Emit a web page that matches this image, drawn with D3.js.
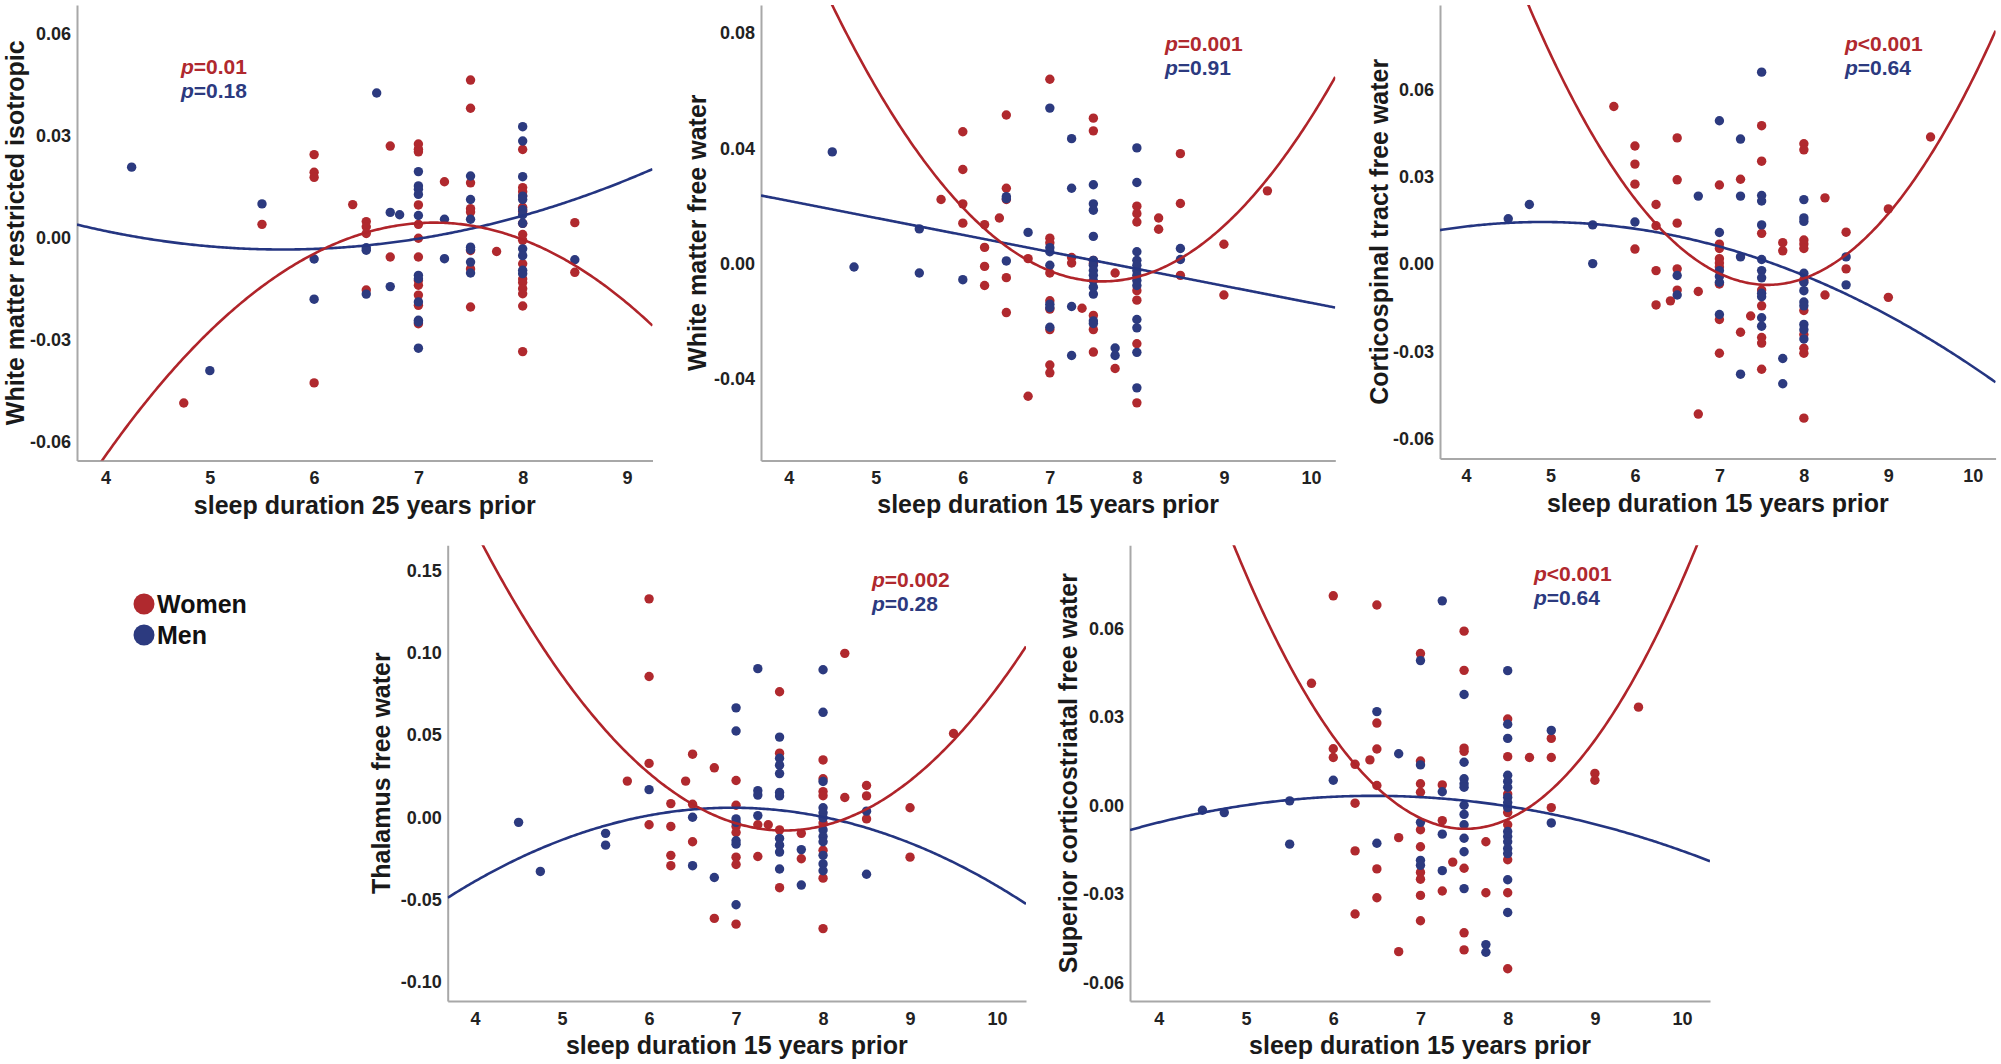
<!DOCTYPE html>
<html>
<head>
<meta charset="utf-8">
<script src="https://cdn.jsdelivr.net/npm/d3@7"></script>
<style>
  html, body { margin: 0; padding: 0; background: #ffffff; }
  svg { display: block; }
  text { font-family: "Liberation Sans", Arial, sans-serif; }
</style>
</head>
<body>
<div id="chart"></div>
<script>
// ---------------- DATA ----------------
// [sleep hours, value]
const p1Men = [[4.25,0.0208],[5.5,0.010],[5.0,-0.039],[6.6,0.0426],[6,-0.0062],[6,-0.018],[6.5,-0.0029],[6.5,-0.0036],[6.5,-0.0165],[6.73,0.0075],[6.82,0.0068],[6.73,-0.0143],[7,0.0195],[7,0.0153],[7,0.0143],[7,0.0128],[7,0.0066],[7,-0.011],[7,-0.012],[7,-0.0188],[7,-0.0242],[7,-0.0247],[7,-0.0324],[7.25,0.0055],[7.25,-0.0061],[7.5,0.0182],[7.5,0.0113],[7.5,0.0055],[7.5,-0.0027],[7.5,-0.0034],[7.5,-0.0071],[7.5,-0.0103],[8,0.0327],[8,0.0285],[8,0.018],[8,0.0123],[8,0.0113],[8,0.0083],[8,0.0068],[8,0.0043],[8,-0.0032],[8,-0.0052],[8,-0.0095],[8,-0.0105],[8.5,-0.0064]];
const p1Women = [[4.75,-0.0485],[5.5,0.004],[6,0.0245],[6,0.0193],[6,0.0178],[6,-0.0426],[6.37,0.0098],[6.5,0.0048],[6.5,0.0033],[6.5,0.0013],[6.5,-0.0153],[6.73,0.027],[6.73,-0.0056],[7,0.0276],[7,0.0261],[7,0.0253],[7,0.0097],[7,0.004],[7,-0.0001],[7,-0.0056],[7,-0.0125],[7,-0.0139],[7,-0.0168],[7,-0.0198],[7,-0.0252],[7.25,0.0165],[7.5,0.0464],[7.5,0.0381],[7.5,0.0162],[7.5,0.0086],[7.5,0.0076],[7.5,-0.0037],[7.5,-0.0091],[7.5,-0.0203],[7.75,-0.004],[8,0.026],[8,0.0148],[8,0.0136],[8,0.0123],[8,0.009],[8,0.0078],[8,0.0043],[8,0.001],[8,-0.0007],[8,-0.0076],[8,-0.0121],[8,-0.0131],[8,-0.0149],[8,-0.0164],[8,-0.02],[8,-0.0334],[8.5,0.0045],[8.5,-0.0101]];

const p2Men = [[4.5,0.0388],[4.75,-0.0011],[5.5,0.0121],[5.5,-0.0032],[6,-0.0055],[6.5,0.0233],[6.5,0.0226],[6.5,0.001],[6.75,0.0109],[7,0.054],[7,0.0056],[7,0.0042],[7,-0.0005],[7,-0.014],[7,-0.0152],[7,-0.022],[7.25,0.0434],[7.25,0.0262],[7.25,-0.0148],[7.25,-0.0318],[7.5,0.0274],[7.5,0.0208],[7.5,0.0186],[7.5,0.0095],[7.5,0.0012],[7.5,-0.0005],[7.5,-0.0023],[7.5,-0.004],[7.5,-0.0058],[7.5,-0.0081],[7.5,-0.0105],[7.5,-0.0198],[7.5,-0.0207],[7.75,-0.0292],[7.75,-0.0318],[8,0.0402],[8,0.0282],[8,0.0042],[8,0.0012],[8,-0.0005],[8,-0.0023],[8,-0.004],[8,-0.0058],[8,-0.0075],[8,-0.0193],[8,-0.0222],[8,-0.0307],[8,-0.043],[8.5,0.0053],[8.5,0.0015]];
const p2Women = [[5.75,0.0223],[6,0.0458],[6,0.0327],[6,0.0208],[6,0.0141],[6.25,0.0136],[6.25,0.0057],[6.25,-0.0009],[6.25,-0.0075],[6.42,0.0159],[6.5,0.0516],[6.5,0.0262],[6.5,0.0223],[6.5,-0.0048],[6.5,-0.0169],[6.75,0.0018],[6.75,-0.0459],[7,0.064],[7,0.0089],[7,0.0073],[7,-0.0032],[7,-0.0128],[7,-0.0157],[7,-0.0228],[7,-0.0351],[7,-0.0378],[7.25,0.0022],[7.25,0.0003],[7.37,-0.0154],[7.5,0.0505],[7.5,0.0461],[7.5,0.0012],[7.5,0.0001],[7.5,-0.0179],[7.5,-0.0228],[7.5,-0.0306],[7.75,-0.0032],[7.75,-0.0363],[8,0.02],[8,0.0174],[8,0.0145],[8,-0.0093],[8,-0.0126],[8,-0.0277],[8,-0.0482],[8.25,0.0159],[8.25,0.012],[8.5,0.0382],[8.5,0.0209],[8.5,-0.004],[9,0.0068],[9,-0.0108],[9.5,0.0253]];

const p3Men = [[4.5,0.0156],[4.75,0.0205],[5.5,0.0135],[5.5,0.0002],[6,0.0145],[6.5,-0.0039],[6.5,-0.0106],[6.75,0.0234],[7,0.0493],[7,0.0109],[7,-0.0022],[7,-0.0042],[7,-0.0062],[7,-0.0173],[7.25,0.043],[7.25,0.0234],[7.25,0.0025],[7.25,-0.0378],[7.5,0.066],[7.5,0.0236],[7.5,0.0217],[7.5,0.0135],[7.5,0.0016],[7.5,-0.0022],[7.5,-0.0047],[7.5,-0.01],[7.5,-0.0112],[7.5,-0.0184],[7.5,-0.0213],[7.75,-0.0324],[7.75,-0.0411],[8,0.0222],[8,0.0159],[8,0.0147],[8,-0.0031],[8,-0.0062],[8,-0.0091],[8,-0.013],[8,-0.0143],[8,-0.0207],[8,-0.0225],[8,-0.0257],[8.5,0.0025],[8.5,-0.0071]];
const p3Women = [[5.75,0.0542],[6,0.0406],[6,0.0344],[6,0.0275],[6,0.0052],[6.25,0.0205],[6.25,0.0132],[6.25,-0.0022],[6.25,-0.014],[6.42,-0.0126],[6.5,0.0434],[6.5,0.029],[6.5,0.0141],[6.5,-0.0016],[6.5,-0.0089],[6.75,-0.0094],[6.75,-0.0515],[7,0.0272],[7,0.0069],[7,0.0054],[7,0.0019],[7,0.0004],[7,-0.001],[7,-0.0068],[7,-0.019],[7,-0.0306],[7.25,0.0292],[7.25,-0.0234],[7.37,-0.0178],[7.5,0.0476],[7.5,0.0354],[7.5,0.0106],[7.5,-0.0089],[7.5,-0.0143],[7.5,-0.0252],[7.5,-0.0271],[7.5,-0.0361],[7.75,0.0074],[7.75,0.0046],[8,0.0414],[8,0.0393],[8,0.0083],[8,0.0069],[8,0.0054],[8,-0.0054],[8,-0.0159],[8,-0.0242],[8,-0.0289],[8,-0.0306],[8,-0.0529],[8.25,0.0228],[8.25,-0.0106],[8.5,0.011],[8.5,-0.0016],[9,0.019],[9,-0.0114],[9.5,0.0437]];

const p4Men = [[4.5,-0.0031],[4.75,-0.033],[5.5,-0.0098],[5.5,-0.017],[6,0.0168],[6.5,0.0],[6.5,-0.0295],[6.75,-0.0367],[7,0.0666],[7,0.0525],[7,-0.001],[7,-0.0031],[7,-0.0143],[7,-0.0164],[7,-0.0533],[7.25,0.0905],[7.25,0.0162],[7.25,0.0135],[7.25,0.001],[7.5,0.0488],[7.5,0.0359],[7.5,0.0317],[7.5,0.0266],[7.5,0.0151],[7.5,0.013],[7.5,-0.0129],[7.5,-0.017],[7.5,-0.0212],[7.5,-0.0315],[7.75,-0.0197],[7.75,-0.0413],[8,0.0898],[8,0.0639],[8,0.0218],[8,0.0058],[8,0.0027],[8,-0.0004],[8,-0.0077],[8,-0.0118],[8,-0.0149],[8,-0.0232],[8,-0.0284],[8,-0.0326],[8.5,0.0037],[8.5,-0.0347]];
const p4Women = [[5.75,0.022],[6,0.133],[6,0.0857],[6,0.0328],[6,-0.0046],[6.25,0.0083],[6.25,-0.0056],[6.25,-0.0232],[6.25,-0.0295],[6.42,0.022],[6.5,0.0384],[6.5,0.0079],[6.5,-0.0149],[6.75,0.0301],[6.75,-0.0616],[7,0.0224],[7,0.0073],[7,-0.0056],[7,-0.0093],[7,-0.0243],[7,-0.0288],[7,-0.0651],[7.25,-0.0046],[7.25,-0.0239],[7.37,-0.0046],[7.5,0.0764],[7.5,0.039],[7.5,-0.0077],[7.5,-0.0429],[7.75,-0.0098],[7.75,-0.0253],[8,0.0349],[8,0.0234],[8,0.0156],[8,0.0131],[8,-0.0035],[8,-0.0201],[8,-0.0371],[8,-0.0678],[8.25,0.0998],[8.25,0.012],[8.5,0.0193],[8.5,0.013],[8.5,-0.001],[9,0.0058],[9,-0.0243],[9.5,0.051]];

const p5Men = [[4.5,-0.0016],[4.75,-0.0024],[5.5,0.0016],[5.5,-0.0131],[6,0.0086],[6.5,0.0319],[6.5,-0.0128],[6.75,0.0176],[7,0.0492],[7,0.0138],[7,-0.0057],[7,-0.0186],[7,-0.0203],[7.25,0.0695],[7.25,0.0047],[7.25,-0.0097],[7.25,-0.0221],[7.5,0.0377],[7.5,0.0147],[7.5,0.0091],[7.5,0.0074],[7.5,0.0062],[7.5,0.0001],[7.5,-0.003],[7.5,-0.0065],[7.5,-0.0111],[7.5,-0.0157],[7.5,-0.0282],[7.75,-0.0472],[7.75,-0.0498],[8,0.0458],[8,0.0276],[8,0.0228],[8,0.0103],[8,0.0082],[8,0.0062],[8,0.0028],[8,0.001],[8,-0.0007],[8,-0.0088],[8,-0.0105],[8,-0.0123],[8,-0.0146],[8,-0.0163],[8,-0.0252],[8,-0.0363],[8.5,0.0255],[8.5,-0.0059]];
const p5Women = [[5.75,0.0415],[6,0.0712],[6,0.0193],[6,0.0163],[6.25,0.014],[6.25,0.0008],[6.25,-0.0154],[6.25,-0.0368],[6.42,0.0155],[6.5,0.0681],[6.5,0.028],[6.5,0.0192],[6.5,0.0068],[6.5,-0.0215],[6.5,-0.0313],[6.75,-0.0109],[6.75,-0.0496],[7,0.0516],[7,0.0151],[7,0.0074],[7,0.0045],[7,-0.0082],[7,-0.014],[7,-0.0227],[7,-0.025],[7,-0.0305],[7,-0.0391],[7.25,0.007],[7.25,-0.0051],[7.25,-0.029],[7.37,-0.0192],[7.5,0.0592],[7.5,0.0459],[7.5,0.0195],[7.5,0.0184],[7.5,-0.0213],[7.5,-0.0432],[7.5,-0.049],[7.75,-0.0123],[7.75,-0.0296],[8,0.0294],[8,0.0166],[8,0.0039],[8,-0.0024],[8,-0.0065],[8,-0.0184],[8,-0.0296],[8,-0.0554],[8.25,0.0163],[8.5,0.0228],[8.5,0.0163],[8.5,-0.0007],[9,0.0109],[9,0.0086],[9.5,0.0334]];

// fitted curves: [x0, y0, slope at x0, curvature]  y = y0 + s(x-x0) + c(x-x0)^2
const fitWomen = [[7.15,0.0045,0,-0.0069],[7.607,-0.0061,0,0.00992],[7.571,-0.0071,0,0.01199],[7.552,-0.0081,0,0.01449],[7.515,-0.0079,0,0.01365]];
const fitMen   = [[5.7,-0.0034,0,0.00188],[3.68,0.0237,-0.00589,0],[4.9,0.0145,0,-0.00191],[6.954,0.0058,0,-0.00513],[6.461,0.0033,0,-0.00149]];

const yTitles = ["White matter restricted isotropic","White matter free water","Corticospinal tract free water","Thalamus free water","Superior corticostriatal free water"];
const xTitles = ["sleep duration 25 years prior","sleep duration 15 years prior","sleep duration 15 years prior","sleep duration 15 years prior","sleep duration 15 years prior"];
const pWomen = ["=0.01","=0.001","<0.001","=0.002","<0.001"];
const pMen   = ["=0.18","=0.91","=0.64","=0.28","=0.64"];
const xTicks = [[4,5,6,7,8,9],[4,5,6,7,8,9,10],[4,5,6,7,8,9,10],[4,5,6,7,8,9,10],[4,5,6,7,8,9,10]];
const yTicks = [[-0.06,-0.03,0,0.03,0.06],[-0.04,0,0.04,0.08],[-0.06,-0.03,0,0.03,0.06],[-0.10,-0.05,0,0.05,0.10,0.15],[-0.06,-0.03,0,0.03,0.06]];
const legendLabels = ["Women","Men"];

// ---------------- LAYOUT ----------------
const layout = [
  {l:77,   r:652.5, t:5,     b:460.5, xd:[3.726,9.245], yd:[-0.06541,0.06846], pX:181, pY:74,  tOff:62},
  {l:761,  r:1335.3,t:5,     b:460.4, xd:[3.681,10.28], yd:[-0.06816,0.08974], pX:1165,pY:51,  tOff:64},
  {l:1440, r:1995.6,t:5,     b:458.5, xd:[3.692,10.27], yd:[-0.06677,0.08907], pX:1845,pY:51,  tOff:61},
  {l:447.7,r:1026,  t:545.3, b:1001,  xd:[3.685,10.333],yd:[-0.1119,0.1656],   pX:872, pY:587, tOff:67},
  {l:1130, r:1710,  t:545.3, b:1001,  xd:[3.669,10.32], yd:[-0.06635,0.08835], pX:1534,pY:581, tOff:62}
];
const RED = "#b0292e", BLUE = "#2c3a7f";
const RED_LINE = "#b0242a", BLUE_LINE = "#243581";

const menData = [p1Men,p2Men,p3Men,p4Men,p5Men];
const womenData = [p1Women,p2Women,p3Women,p4Women,p5Women];

const W = 2001, H = 1064;
const svg = d3.select("#chart").append("svg").attr("width", W).attr("height", H);
svg.append("rect").attr("width", W).attr("height", H).attr("fill", "#fff");
const defs = svg.append("defs");

function fitVal(f, x) { const d = x - f[0]; return f[1] + f[2]*d + f[3]*d*d; }

layout.forEach((L, i) => {
  const x = d3.scaleLinear().domain(L.xd).range([L.l, L.r]);
  const y = d3.scaleLinear().domain(L.yd).range([L.b, L.t]);
  const g = svg.append("g");

  defs.append("clipPath").attr("id", "clip"+i)
    .append("rect").attr("x", L.l).attr("y", L.t).attr("width", L.r - L.l).attr("height", L.b - L.t);

  // axes
  const fmtY = v => v.toFixed(2);
  const ax = g.append("g").attr("transform", `translate(0,${L.b})`)
    .call(d3.axisBottom(x).tickValues(xTicks[i]).tickFormat(d3.format("d")).tickSize(0).tickSizeOuter(0).tickPadding(11));
  const ay = g.append("g").attr("transform", `translate(${L.l},0)`)
    .call(d3.axisLeft(y).tickValues(yTicks[i]).tickFormat(fmtY).tickSize(0).tickSizeOuter(0).tickPadding(6));
  [ax, ay].forEach(a => {
    a.select(".domain").attr("stroke", "#a8a8a8").attr("stroke-width", 2);
    a.selectAll("text").attr("font-size", 18).attr("font-weight", "bold").attr("fill", "#222")
      .attr("font-family", "'Liberation Sans', Arial, sans-serif");
  });

  // points
  const pts = g.append("g").attr("clip-path", `url(#clip${i})`);
  pts.selectAll("circle.w").data(womenData[i]).join("circle").attr("class","w")
    .attr("cx", d => x(d[0])).attr("cy", d => y(d[1])).attr("r", 4.7).attr("fill", RED);
  pts.selectAll("circle.m").data(menData[i]).join("circle").attr("class","m")
    .attr("cx", d => x(d[0])).attr("cy", d => y(d[1])).attr("r", 4.7).attr("fill", BLUE);

  // fit curves
  const xs = d3.range(0, 301).map(k => L.xd[0] + (L.xd[1]-L.xd[0]) * k / 300);
  const line = d3.line().x(d => x(d[0])).y(d => y(d[1]));
  const cg = g.append("g").attr("clip-path", `url(#clip${i})`);
  cg.append("path").datum(xs.map(v => [v, fitVal(fitMen[i], v)]))
    .attr("d", line).attr("fill","none").attr("stroke", BLUE_LINE).attr("stroke-width", 2.6);
  cg.append("path").datum(xs.map(v => [v, fitVal(fitWomen[i], v)]))
    .attr("d", line).attr("fill","none").attr("stroke", RED_LINE).attr("stroke-width", 2.6);

  // titles
  g.append("text").attr("x", (L.l + L.r)/2).attr("y", L.b + 53)
    .attr("text-anchor","middle").attr("font-size", 25).attr("font-weight","bold").attr("fill","#1a1a1a")
    .text(xTitles[i]);
  g.append("text").attr("transform", `translate(${L.l - L.tOff},${(L.t + L.b)/2}) rotate(-90)`)
    .attr("text-anchor","middle").attr("dominant-baseline","central")
    .attr("font-size", 25).attr("font-weight","bold").attr("fill","#1a1a1a")
    .text(yTitles[i]);

  // p values
  const pw = g.append("text").attr("x", L.pX).attr("y", L.pY).attr("font-size", 21).attr("font-weight","bold").attr("fill", RED);
  pw.append("tspan").attr("font-style","italic").text("p");
  pw.append("tspan").text(pWomen[i]);
  const pm = g.append("text").attr("x", L.pX).attr("y", L.pY + 24).attr("font-size", 21).attr("font-weight","bold").attr("fill", BLUE);
  pm.append("tspan").attr("font-style","italic").text("p");
  pm.append("tspan").text(pMen[i]);
});

// legend
const leg = svg.append("g");
[RED, BLUE].forEach((c, k) => {
  leg.append("circle").attr("cx", 144).attr("cy", 604 + k*31).attr("r", 10.5).attr("fill", c);
  leg.append("text").attr("x", 157).attr("y", 613 + k*31).attr("font-size", 25).attr("font-weight","bold")
    .attr("fill","#111").text(legendLabels[k]);
});
</script>
</body>
</html>
